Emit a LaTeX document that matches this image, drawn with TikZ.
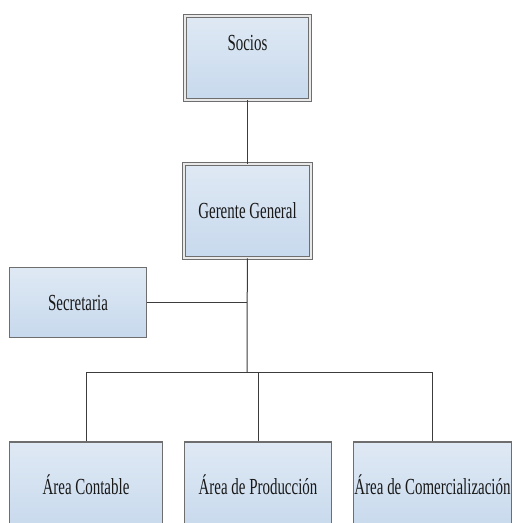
\documentclass[tikz,border=0pt]{standalone}
\usepackage{fontspec}
\setmainfont{Liberation Serif}[FakeStretch=0.65]
\usepackage{tikz}
\usetikzlibrary{positioning}
\definecolor{boxtop}{HTML}{DFE9F4}
\definecolor{boxbottom}{HTML}{C7D9ED}
\definecolor{boxline}{HTML}{6E6E6E}
\definecolor{linkline}{HTML}{3C3C3C}

\begin{document}
\begin{tikzpicture}[x=1pt, y=-1pt,
      box/.style={draw=boxline, line width=1.1pt, top color=boxtop, bottom color=boxbottom,
        inner sep=0pt, text height=15pt, text depth=0pt, text=black!90,
        font=\fontsize{23}{26}\selectfont},
      headbox/.style={box, line width=0.9pt, double=white!85!boxline, double distance=1.3pt},
      link/.style={draw=linkline, line width=1pt}]
      \useasboundingbox (0,0) rectangle (513,523);
      \clip (0,0) rectangle (513,523);
      \node[headbox, minimum width=125pt, minimum height=84pt, text depth=30pt]
        (socios) at (247.5,58) {Socios};
      \node[headbox, minimum width=127pt, minimum height=94pt]
        (gerente) at (247.5,211) {Gerente General};
      \node[box, minimum width=137pt, minimum height=70pt]
        (secretaria) at (78,302.5) {Secretaria};
      \node[box, minimum width=153pt, minimum height=90pt]
        (contable) at (86,487) {Área Contable};
      \node[box, minimum width=147pt, minimum height=90pt]
        (produccion) at (258,487) {Área de Producción};
      \node[box, minimum width=158pt, minimum height=90pt]
        (comercial) at (432.5,487) {Área de Comercialización};
      \coordinate (bus) at (247,372);
      \draw[link] (socios) -- (gerente);
      \draw[link] (gerente) -- (bus);
      \draw[link] (secretaria) -- (secretaria -| bus);
      \draw[link] (contable.north) |- (bus);
      \draw[link] (comercial.north) |- (bus);
      \draw[link] (produccion.north) -- (produccion.north |- bus);
    \end{tikzpicture}
\end{document}
